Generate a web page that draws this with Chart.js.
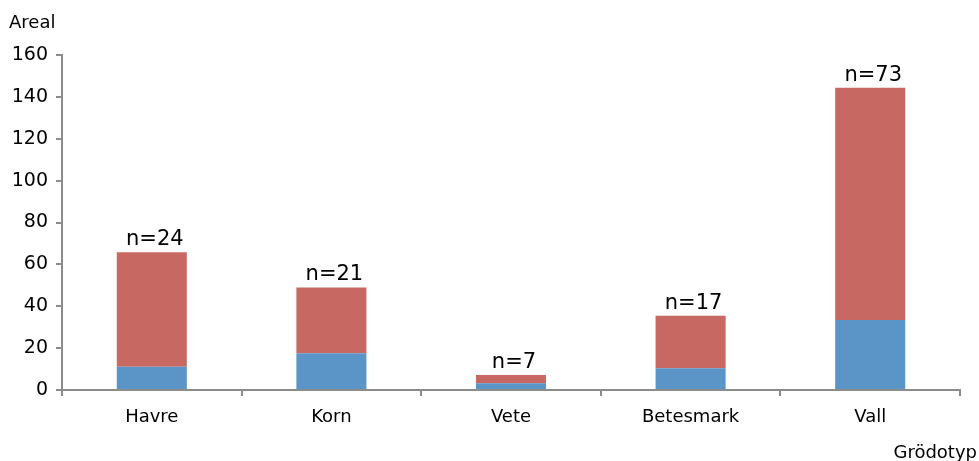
<!DOCTYPE html>
<html>
<head>
<meta charset="utf-8">
<script src="https://cdn.jsdelivr.net/npm/chart.js@4"></script>
<style>
  html, body { margin: 0; padding: 0; background: #fff; }
  #wrap { width: 979px; height: 461px; position: relative; }
</style>
</head>
<body>
<div id="wrap"><canvas id="c"></canvas></div>
<script>
// Crop types on the x axis
const categories = ['Havre', 'Korn', 'Vete', 'Betesmark', 'Vall'];
// Lower (blue) part of each stack
const lowerValues = [11.1, 17.5, 3.2, 10.4, 33.4];
// Upper (red) part of each stack
const upperValues = [54.7, 31.5, 4.0, 25.1, 111.0];
// Number of observations written above each stack
const counts = [24, 21, 7, 17, 73];
// Y axis ticks
const yTicks = [0, 20, 40, 60, 80, 100, 120, 140, 160];

const FONT = "'DejaVu Sans', sans-serif";
const AXIS = '#8c8c8c';

const labelsPlugin = {
  id: 'stackLabels',
  afterDatasetsDraw(chart) {
    const ctx = chart.ctx;
    const x = chart.scales.x, y = chart.scales.y;
    ctx.save();
    ctx.fillStyle = '#000';
    ctx.font = '21px ' + FONT;
    ctx.textAlign = 'center';
    ctx.textBaseline = 'bottom';
    categories.forEach((c, i) => {
      const total = lowerValues[i] + upperValues[i];
      ctx.fillText('n=' + counts[i], x.getPixelForValue(i) + 3, y.getPixelForValue(total) - 2);
    });
    // axis captions
    ctx.font = '18px ' + FONT;
    ctx.textAlign = 'left';
    ctx.textBaseline = 'alphabetic';
    ctx.fillText('Areal', 9, 28);
    ctx.textAlign = 'right';
    ctx.fillText('Grödotyp', 977, 458);
    ctx.restore();
  }
};

new Chart(document.getElementById('c'), {
  type: 'bar',
  data: {
    labels: categories,
    datasets: [
      { label: 'lower', data: lowerValues, backgroundColor: '#5b94c7', borderWidth: 0, barPercentage: 0.39, categoryPercentage: 1 },
      { label: 'upper', data: upperValues, backgroundColor: '#c76863', borderWidth: 0, barPercentage: 0.39, categoryPercentage: 1 }
    ]
  },
  options: {
    responsive: true,
    maintainAspectRatio: false,
    animation: false,
    layout: { padding: { top: 55, right: 19, left: 0, bottom: 0 } },
    plugins: { legend: { display: false }, tooltip: { enabled: false } },
    scales: {
      x: {
        stacked: true,
        grid: { drawOnChartArea: false, drawTicks: true, tickLength: 6, color: AXIS, lineWidth: 2, offset: true },
        border: { color: AXIS, width: 2 },
        ticks: { color: '#000', font: { family: FONT, size: 18 }, padding: 11, maxRotation: 0 },
        afterFit(s) { s.height = 71; }
      },
      y: {
        stacked: true,
        min: 0, max: 160,
        afterBuildTicks(s) { s.ticks = yTicks.map(v => ({ value: v })); },
        grid: { drawOnChartArea: false, drawTicks: true, tickLength: 6, color: AXIS, lineWidth: 2 },
        border: { color: AXIS, width: 2 },
        ticks: { color: '#000', font: { family: FONT, size: 19 }, padding: 8 },
        afterFit(s) { s.width = 62; }
      }
    }
  },
  plugins: [labelsPlugin]
});
</script>
</body>
</html>
